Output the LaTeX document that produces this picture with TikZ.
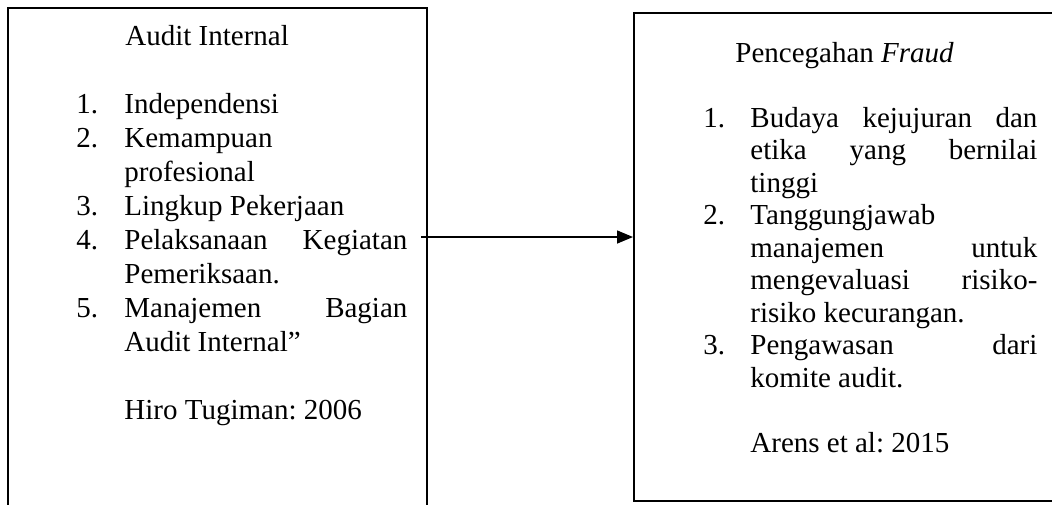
\documentclass[tikz,border=0pt]{standalone}
\usepackage{fontspec}
\setmainfont{Liberation Serif}
\usetikzlibrary{arrows.meta,fit}
\frenchspacing
\begin{document}
\begin{tikzpicture}[x=0.5pt,y=-0.5pt,
  boxframe/.style={draw, line width=1pt, inner sep=0pt},
  txt/.style={anchor=base west, inner sep=0pt, font=\fontsize{14.5pt}{17pt}\selectfont},
  conn/.style={line width=0.75pt, -{Triangle[length=8pt,width=6.5pt]}}
]
\useasboundingbox (0,0) rectangle (1052,504);
\clip (0,0) rectangle (1052,504);
% frames
\node[boxframe, fit={(8,7.5)(427,520)}] (L) {};
\node[boxframe, fit={(634,12.5)(1070,501)}] (R) {};
% left box text
\node[txt] (lt) at (125,45) {Audit Internal};
\node[txt] (ln1) at (76,113) {1.};
\node[txt] (l1) at (124,113) {Independensi};
\node[txt] (ln2) at (76,147) {2.};
\node[txt] (l2) at (124,147) {Kemampuan};
\node[txt] (l2b) at (124,181) {profesional};
\node[txt] (ln3) at (76,215) {3.};
\node[txt] (l3) at (124,215) {Lingkup Pekerjaan};
\node[txt] (ln4) at (76,249) {4.};
\node[txt] (l4) at (124,249) {\makebox[141.5pt][s]{Pelaksanaan Kegiatan}};
\node[txt] (l4b) at (124,283) {Pemeriksaan.};
\node[txt] (ln5) at (76,317) {5.};
\node[txt] (l5) at (124,317) {\makebox[141.5pt][s]{Manajemen Bagian}};
\node[txt] (l5b) at (124,351) {Audit Internal”};
\node[txt] (lsrc) at (124,419) {Hiro Tugiman: 2006};
% right box text
\node[txt] (rt) at (735,62) {Pencegahan \textit{Fraud}};
\node[txt] (rn1) at (703,127) {1.};
\node[txt] (r1) at (750,127) {\makebox[143.5pt][s]{Budaya kejujuran dan}};
\node[txt] (r1b) at (750,159.5) {\makebox[143.5pt][s]{etika yang bernilai}};
\node[txt] (r1c) at (750,192) {tinggi};
\node[txt] (rn2) at (703,224.5) {2.};
\node[txt] (r2) at (750,224.5) {Tanggungjawab};
\node[txt] (r2b) at (750,257) {\makebox[143.5pt][s]{manajemen untuk}};
\node[txt] (r2c) at (750,289.5) {\makebox[143.5pt][s]{mengevaluasi risiko-}};
\node[txt] (r2d) at (750,322) {risiko kecurangan.};
\node[txt] (rn3) at (703,354.5) {3.};
\node[txt] (r3) at (750,354.5) {\makebox[143.5pt][s]{Pengawasan dari}};
\node[txt] (r3b) at (750,387) {komite audit.};
\node[txt] (rsrc) at (750,452) {Arens et al: 2015};
% connector
\coordinate (a0) at (421,237);
\draw[conn] (a0) -- (R.west |- a0);
\end{tikzpicture}
\end{document}
